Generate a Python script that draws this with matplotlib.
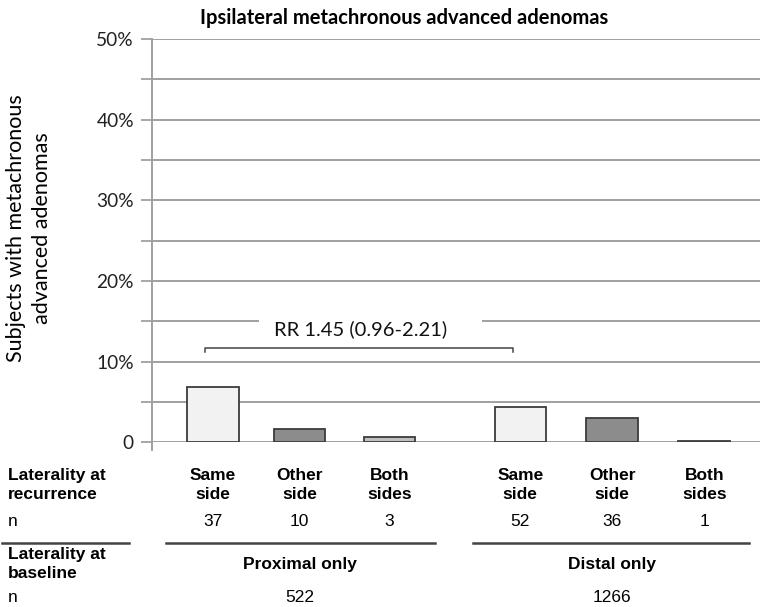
import numpy as np
import matplotlib
matplotlib.use("Agg")
import matplotlib.pyplot as plt
import matplotlib.transforms as mtransforms
from matplotlib.patches import Rectangle
from matplotlib.ticker import FuncFormatter

# data (share of subjects, %)
recurrence_labels = ["Same\nside", "Other\nside", "Both\nsides", "Same\nside", "Other\nside", "Both\nsides"]
pct_values = [6.9, 1.7, 0.6, 4.4, 3.05, 0.2]
n_recurrence = [37, 10, 3, 52, 36, 1]
baseline_labels = ["Proximal only", "Distal only"]
n_baseline = [522, 1266]
rr_text = "RR 1.45 (0.96-2.21)"

# layout
x_pos = np.array([0, 0.94, 1.92, 3.34, 4.34, 5.34])
bar_colors = ["#f2f2f2", "#8c8c8c", "#c0c0c0"] * 2
GRID = "#a0a0a0"
EDGE = "#3c3c3c"
CAL = ["Lato", "DejaVu Sans"]
ARIAL = ["Liberation Sans Narrow", "Liberation Sans", "DejaVu Sans"]

fig = plt.figure(figsize=(7.64, 6.07), dpi=100)
ax = fig.add_axes([152 / 764, 1 - 442.3 / 607, (760 - 152) / 764, 403.3 / 607])
ax.set_axisbelow(True)

ax.bar(x_pos, pct_values, width=0.56, color=bar_colors, edgecolor=EDGE, linewidth=1.3, zorder=3)

ax.set_xlim(-0.663, 5.946)
ax.set_ylim(0, 50)
ax.set_yticks(np.arange(0, 51, 5))
ax.yaxis.set_major_formatter(FuncFormatter(
    lambda v, p: "0" if v == 0 else (f"{v:.0f}%" if v % 10 == 0 else "")))
ax.tick_params(axis="y", length=8, width=1.3, color=GRID, pad=5, labelsize=13.8)
for t in ax.get_yticklabels():
    t.set_fontfamily(CAL)
    t.set_color("#222222")
ax.set_xticks([])
ax.grid(axis="y", color=GRID, linewidth=1.4)
for s in ["top", "right", "bottom"]:
    ax.spines[s].set_visible(False)
ax.spines["left"].set_color(GRID)
ax.spines["left"].set_linewidth(1.4)
ax.spines["left"].set_bounds(-1.0, 50)
ax.set_clip_on(False)

# bracket with relative risk; white strip breaks the 15% gridline behind the label
bx0, bx1 = x_pos[0] - 0.087, x_pos[3] - 0.08
ax.plot([bx0, bx0, bx1, bx1], [11.25, 11.73, 11.73, 11.25], color="#444444", lw=1.1, zorder=4)
ax.add_patch(Rectangle((0.5, 14.4), 2.42, 1.2, facecolor="white", edgecolor="none", zorder=2))
ax.text((bx0 + bx1) / 2 + 0.02, 14.0, rr_text, ha="center", va="center", fontsize=14.5,
        family=CAL, color="#111111", zorder=5)

fig.text(404 / 764, 1 - 18 / 607, "Ipsilateral metachronous advanced adenomas", ha="center",
         va="center", fontsize=14.5, fontweight="bold", family=CAL)
fig.text(29 / 764, 1 - 228.5 / 607, "Subjects with metachronous\nadvanced adenomas", rotation=90,
         ha="center", va="center", fontsize=15.5, family=CAL, linespacing=1.35,
         multialignment="center")

# table below the chart
trans = mtransforms.blended_transform_factory(ax.transData, fig.transFigure)
fy = lambda py: 1 - py / 607

fig.text(8 / 764, fy(485), "Laterality at\nrecurrence", ha="left", va="center", fontsize=12.5,
         fontweight="bold", family=ARIAL, linespacing=1.4)
fig.text(8 / 764, fy(522), "n", ha="left", va="center", fontsize=12.5, family=ARIAL)
for xp, lab, n in zip(x_pos, recurrence_labels, n_recurrence):
    fig.text(xp, fy(485), lab, transform=trans, ha="center", va="center", fontsize=12.5,
             fontweight="bold", family=ARIAL, linespacing=1.4)
    fig.text(xp, fy(522), str(n), transform=trans, ha="center", va="center", fontsize=12.5,
             family=ARIAL)

for x0, x1 in [(2, 129), (166, 435), (473, 749)]:
    fig.add_artist(plt.Line2D([x0 / 764, x1 / 764], [fy(543), fy(543)], color="#444444", lw=1.8))

fig.text(8 / 764, fy(564), "Laterality at\nbaseline", ha="left", va="center", fontsize=12.5,
         fontweight="bold", family=ARIAL, linespacing=1.4)
fig.text(8 / 764, fy(597), "n", ha="left", va="center", fontsize=12.5, family=ARIAL)
for cx, lab, n in zip([300, 612], baseline_labels, n_baseline):
    fig.text(cx / 764, fy(565), lab, ha="center", va="center", fontsize=12.5, fontweight="bold",
             family=ARIAL)
    fig.text(cx / 764, fy(597), str(n), ha="center", va="center", fontsize=12.5, family=ARIAL)

fig.savefig("out.png", dpi=100)
